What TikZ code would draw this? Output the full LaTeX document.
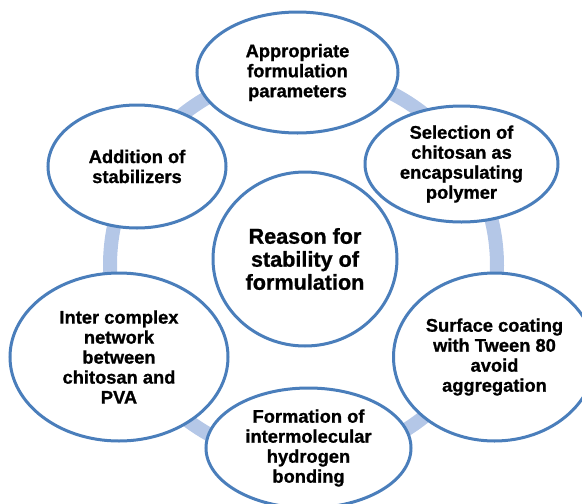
\documentclass[tikz,border=0pt]{standalone}
\usepackage{fontspec}
\setmainfont{Liberation Sans}[BoldFeatures={FakeBold=1}]
\usetikzlibrary{shapes.geometric}

\definecolor{rimblue}{RGB}{74,126,187}
\definecolor{ringblue}{RGB}{180,199,231}

\tikzset{
  bubble/.style={ellipse, draw=rimblue, line width=3pt, fill=white,
    inner sep=0pt, align=center, text=black,
    font=\fontsize{18.3}{20}\selectfont\bfseries},
  hubbubble/.style={bubble, font=\fontsize{21.6}{23}\selectfont\bfseries},
  ring/.style={draw=ringblue, line width=14pt}
}

\begin{document}
\begin{tikzpicture}[x=1pt,y=-1pt]
  \useasboundingbox (0,0) rectangle (582,504);
  \clip (0,0) rectangle (582,504);

  % light ring linking the outer bubbles
  \coordinate (hub) at (303.5,265.5);
  \draw[ring] (hub) circle[radius=193.5pt];

  % central bubble
  \node[hubbubble, minimum width=184pt, minimum height=174pt] (ctr) at (305,259)
    {Reason for\\stability of\\formulation};

  % outer bubbles
  \node[bubble, minimum width=201pt, minimum height=121pt] (top) at (297.5,72.5)
    {Appropriate\\formulation\\parameters};
  \node[bubble, minimum width=178pt, minimum height=123pt] (add) at (137,166.5)
    {Addition of\\stabilizers};
  \node[bubble, minimum width=193pt, minimum height=116pt] (sel) at (461.5,164)
    {Selection of\\chitosan as\\encapsulating\\polymer};
  \node[bubble, minimum width=218pt, minimum height=168pt] (inter) at (119,357)
    {Inter complex\\network\\between\\chitosan and\\PVA};
  \node[bubble, minimum width=202pt, minimum height=168pt] (surf) at (494.5,357)
    {Surface coating\\with Tween 80\\avoid\\aggregation};
  \node[bubble, minimum width=205pt, minimum height=120pt] (form) at (308.5,448)
    {Formation of\\intermolecular\\hydrogen\\bonding};
\end{tikzpicture}
\end{document}
